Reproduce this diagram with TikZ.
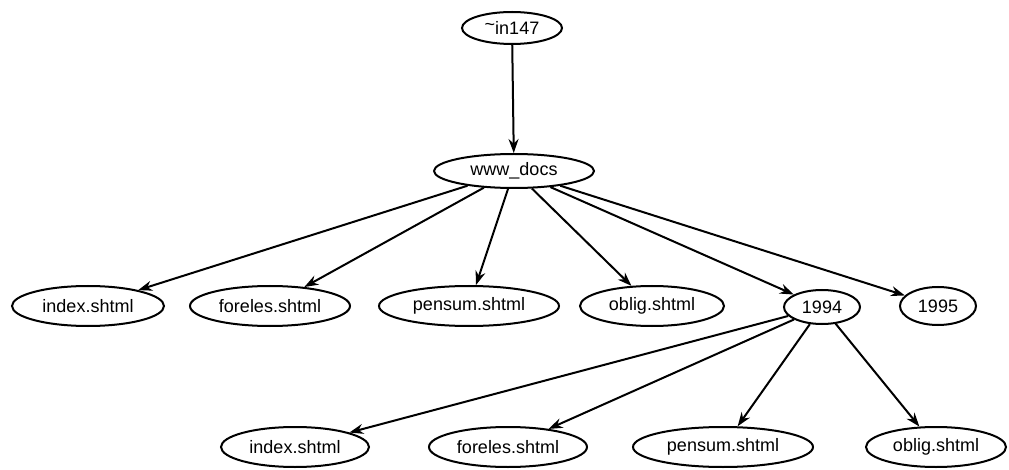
\documentclass[tikz,border=0pt]{standalone}
\usepackage{fontspec}
\setmainfont{Liberation Sans}
\usetikzlibrary{shapes.geometric,arrows.meta}

\tikzset{
  file/.style={draw, ellipse, line width=2pt, inner sep=0pt,
    minimum height=40pt, font=\fontsize{18}{20}\selectfont},
  link/.style={-{Stealth[length=14pt,width=10pt]}, line width=2pt}
}

\begin{document}
\begin{tikzpicture}[x=1pt,y=-1pt]
\useasboundingbox (0,0) rectangle (1009,470);

% top of the tree
\node[file, minimum width=100pt, minimum height=32pt] (in147) at (512,28) {\raisebox{0.4ex}{\textasciitilde}in147};
\node[file, minimum width=160pt, minimum height=34pt] (docs) at (514,171) {www\_docs};

% files in www_docs
\node[file, minimum width=152pt] (index) at (88,306) {index.shtml};
\node[file, minimum width=160pt] (foreles) at (270,306) {foreles.shtml};
\node[file, minimum width=180pt] (pensum) at (469,306) {pensum.shtml};
\node[file, minimum width=144pt] (oblig) at (652,306) {oblig.shtml};
\node[file, minimum width=76pt, minimum height=34pt] (y1994) at (822,307) {1994};
\node[file, minimum width=76pt, minimum height=38pt] (y1995) at (938,306) {1995};

% files in 1994
\node[file, minimum width=148pt] (index94) at (295,447) {index.shtml};
\node[file, minimum width=158pt] (foreles94) at (508,447) {foreles.shtml};
\node[file, minimum width=180pt] (pensum94) at (723,447) {pensum.shtml};
\node[file, minimum width=140pt] (oblig94) at (936,447) {oblig.shtml};

\draw[link] (in147) -- (docs);
\foreach \f in {index,foreles,pensum,oblig,y1994,y1995}
  \draw[link] (docs) -- (\f);
\foreach \f in {index94,foreles94,pensum94,oblig94}
  \draw[link] (y1994) -- (\f);
\end{tikzpicture}
\end{document}
